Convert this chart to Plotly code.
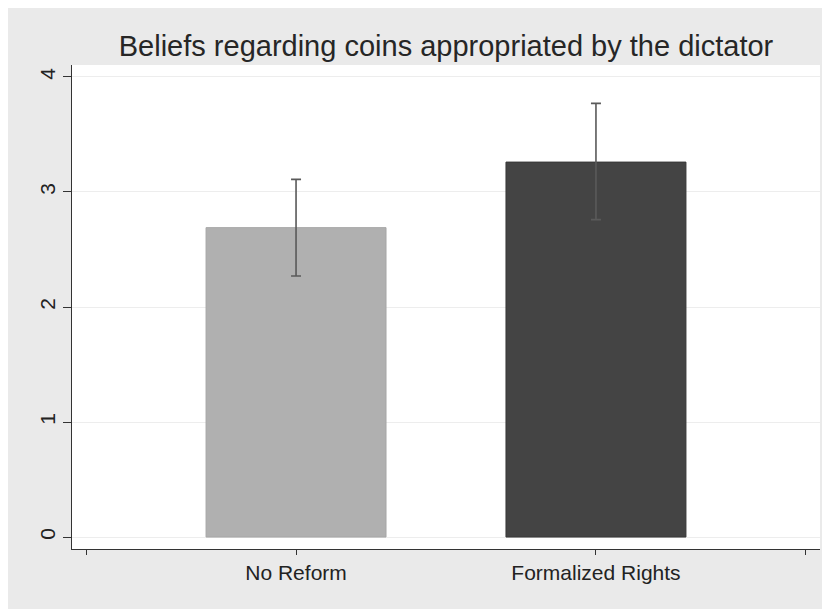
import plotly.graph_objects as go

categories = ["No Reform", "Formalized Rights"]
means = [2.69, 3.26]
ci_high = [3.11, 3.77]
ci_low = [2.27, 2.76]
bar_colors = ["#b0b0b0", "#444444"]
y_ticks = [0, 1, 2, 3, 4]

x_pos = list(range(len(categories)))
W, H = 830, 609
ml, mt = 64, 57
mr = W - 812
mb = H - 541

fig = go.Figure()
fig.add_trace(go.Bar(
    x=x_pos, y=means, width=0.6,
    marker=dict(color=bar_colors, line=dict(color=["#a6a6a6", "#383838"], width=1)),
    error_y=dict(type="data", symmetric=False,
                 array=[h - m for h, m in zip(ci_high, means)],
                 arrayminus=[m - l for m, l in zip(means, ci_low)],
                 color="#5a5a5a", thickness=1.6, width=5),
    showlegend=False, hoverinfo="skip",
))

fig.update_layout(
    width=W, height=H,
    margin=dict(l=ml, r=mr, t=mt, b=mb),
    paper_bgcolor="#eaeaea", plot_bgcolor="white",
    font=dict(family="Liberation Sans, Arial, sans-serif", color="#222222"),
    title=dict(text="Beliefs regarding coins appropriated by the dictator",
               x=438 / W, xanchor="center", xref="container",
               y=1 - 38 / H, yanchor="middle",
               font=dict(size=29, color="#262626")),
    xaxis=dict(range=[-0.747, 1.747], tickvals=[-0.7, 0, 1, 1.7],
               ticktext=["", categories[0], categories[1], ""],
               ticks="outside", ticklen=5, tickcolor="#333333", tickwidth=1.2,
               showline=True, linecolor="#333333", linewidth=1.2,
               showgrid=False, zeroline=False,
               tickfont=dict(size=21, color="#222222")),
    yaxis=dict(range=[-0.104, 4.104], tickvals=y_ticks,
               ticks="outside", ticklen=8, tickcolor="#333333", tickwidth=1.2,
               showline=True, linecolor="#333333", linewidth=1.2,
               showgrid=True, gridcolor="#ededed", gridwidth=1,
               zeroline=False, tickangle=-90,
               tickfont=dict(size=21, color="#222222")),
)

fig.write_html("out.html")
